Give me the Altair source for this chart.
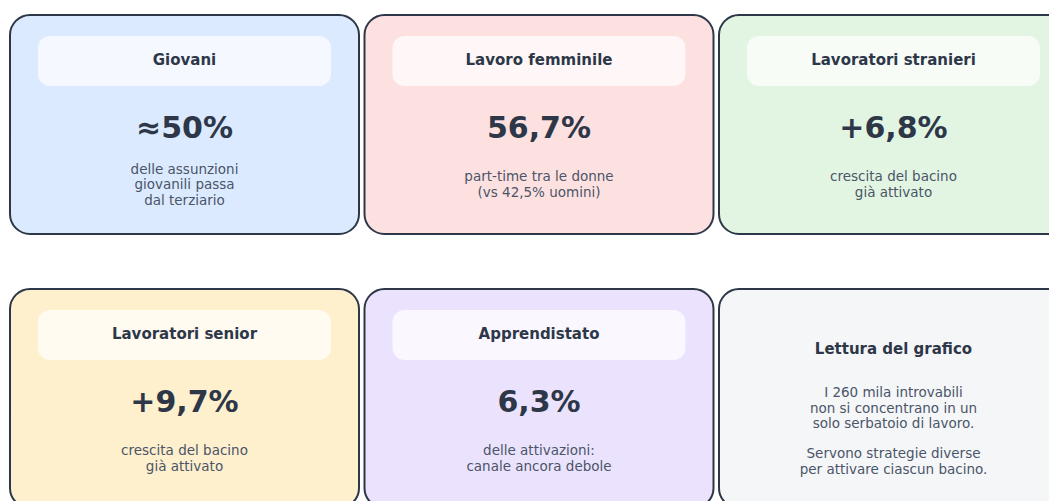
import altair as alt
import pandas as pd

# ---- content ----
titles = ["Giovani", "Lavoro femminile", "Lavoratori stranieri",
          "Lavoratori senior", "Apprendistato"]
values = ["≈50%", "56,7%", "+6,8%", "+9,7%", "6,3%"]
descs = [
    "delle assunzioni\ngiovanili passa\ndal terziario",
    "part-time tra le donne\n(vs 42,5% uomini)",
    "crescita del bacino\ngià attivato",
    "crescita del bacino\ngià attivato",
    "delle attivazioni:\ncanale ancora debole",
]
fills = ["#dbeafe", "#fde1e1", "#e2f5e3", "#feefcd", "#ebe3fd"]
note_title = "Lettura del grafico"
note_paragraphs = [
    "I 260 mila introvabili\nnon si concentrano in un\nsolo serbatoio di lavoro.",
    "Servono strategie diverse\nper attivare ciascun bacino.",
]
note_fill = "#f5f6f8"

# ---- layout ----
W, H = 1041, 493
COLS = 3
col_pitch, row_pitch = 354.5, 274
card_w, card_h = 349, 219
x_origin, y_origin = 2, 7
pill_inset, pill_top, pill_bot = 28, 21, 71
LH = 15.5
FONT = "DejaVu Sans"
DARK = "#2d3748"
GREY = "#4a5568"


def card_frame(i):
    c, r = i % COLS, i // COLS
    return x_origin + c * col_pitch, y_origin + r * row_pitch


def first_line(center, text):
    n = text.count("\n") + 1
    return center - (n - 1) * LH / 2


rows = []
for i, (t, v, d, f) in enumerate(zip(titles, values, descs, fills)):
    x0, y0 = card_frame(i)
    rows.append(dict(title=t, value=v, desc=d, fill=f,
                     x0=x0, x1=x0 + card_w, y0=y0, y1=y0 + card_h,
                     px0=x0 + pill_inset, px1=x0 + card_w - pill_inset,
                     py0=y0 + pill_top, py1=y0 + pill_bot,
                     cx=x0 + card_w / 2, ty=y0 + 45, vy=y0 + 114,
                     dy=first_line(y0 + 170, d)))
kpi = pd.DataFrame(rows)

nx0, ny0 = card_frame(len(titles))
note = pd.DataFrame([dict(title=note_title, fill=note_fill,
                          x0=nx0, x1=nx0 + card_w, y0=ny0, y1=ny0 + card_h,
                          cx=nx0 + card_w / 2, ty=ny0 + 60)])
para_top = [104, 165]
note_body = pd.DataFrame([dict(body=p, cx=nx0 + card_w / 2, by=ny0 + off)
                          for p, off in zip(note_paragraphs, para_top)])

xs = alt.Scale(domain=[0, W], range=[0, W], nice=False, zero=False)
ys = alt.Scale(domain=[0, H], range=[0, H], nice=False, zero=False)


def X(f):
    return alt.X(f"{f}:Q", scale=xs, axis=None)


def Y(f):
    return alt.Y(f"{f}:Q", scale=ys, axis=None)


def cards(df):
    return alt.Chart(df).mark_rect(cornerRadius=20, stroke=DARK, strokeWidth=2).encode(
        x=X("x0"), x2="x1", y=Y("y0"), y2="y1", fill=alt.Fill("fill:N", scale=None))


kpi_cards = cards(kpi)
note_card = cards(note)

pills = alt.Chart(kpi).mark_rect(cornerRadius=12, fill="white", fillOpacity=0.72).encode(
    x=X("px0"), x2="px1", y=Y("py0"), y2="py1")

title_txt = alt.Chart(kpi).mark_text(font=FONT, fontSize=15, fontWeight="bold",
                                     color=DARK, baseline="middle").encode(
    x=X("cx"), y=Y("ty"), text="title:N")

value_txt = alt.Chart(kpi).mark_text(font=FONT, fontSize=30, fontWeight="bold",
                                     color=DARK, baseline="middle").encode(
    x=X("cx"), y=Y("vy"), text="value:N")

desc_txt = alt.Chart(kpi).mark_text(font=FONT, fontSize=13.5, lineHeight=LH,
                                    lineBreak="\n", color=GREY, baseline="middle").encode(
    x=X("cx"), y=Y("dy"), text="desc:N")

note_title_txt = alt.Chart(note).mark_text(font=FONT, fontSize=15, fontWeight="bold",
                                           color=DARK, baseline="middle").encode(
    x=X("cx"), y=Y("ty"), text="title:N")

note_body_txt = alt.Chart(note_body).mark_text(font=FONT, fontSize=13.5, lineHeight=LH,
                                               lineBreak="\n", color=GREY,
                                               baseline="middle").encode(
    x=X("cx"), y=Y("by"), text="body:N")

chart = alt.layer(kpi_cards, note_card, pills, title_txt, value_txt, desc_txt,
                  note_title_txt, note_body_txt).properties(
    width=W, height=H, padding=0, autosize=alt.AutoSizeParams(type="none"),
    background="white"
).configure_view(stroke=None)

chart.save("out.html", embed_options={"renderer": "svg", "actions": False})
